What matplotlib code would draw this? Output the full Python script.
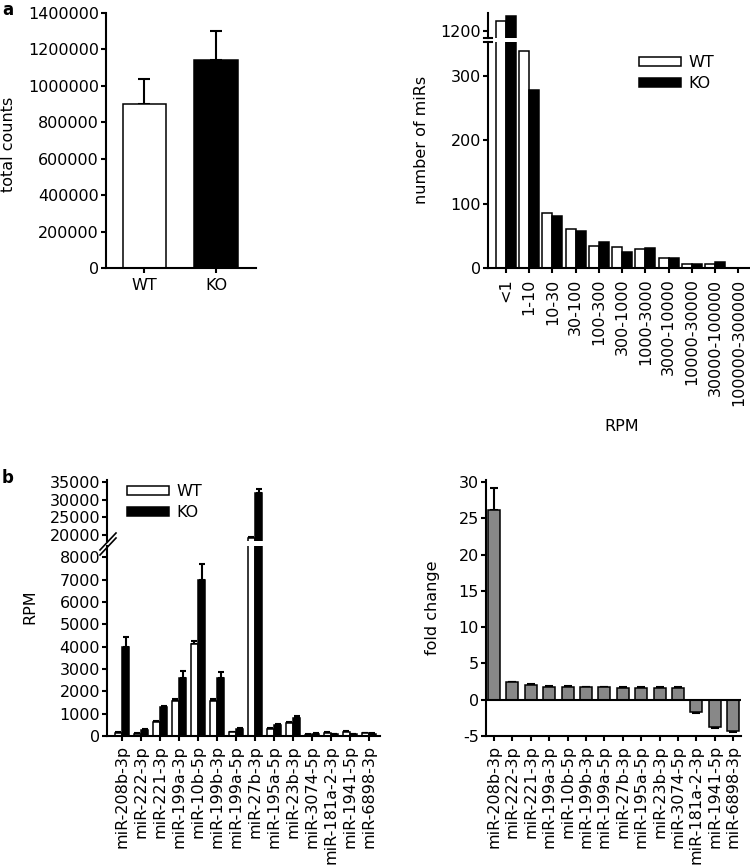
import matplotlib
matplotlib.use("Agg")
import matplotlib.pyplot as plt
from matplotlib.patches import Patch
from matplotlib.lines import Line2D
from matplotlib.ticker import FuncFormatter
import numpy as np

plt.rcParams['font.family'] = ['DejaVu Sans']
plt.rcParams['font.size'] = 11
plt.rcParams['axes.unicode_minus'] = False

# ---------------- data ----------------
groups = ['WT', 'KO']
total_counts = [900000, 1140000]
total_err = [140000, 160000]

rpm_bins = ['<1', '1-10', '10-30', '30-100', '100-300', '300-1000', '1000-3000',
            '3000-10000', '10000-30000', '30000-100000', '100000-300000']
wt_nmirs = [1228, 339, 86, 61, 35, 33, 29, 16, 6, 6, 0]
ko_nmirs = [1242, 278, 81, 58, 40, 25, 31, 16, 7, 10, 0]

mirs = ['miR-208b-3p', 'miR-222-3p', 'miR-221-3p', 'miR-199a-3p', 'miR-10b-5p',
        'miR-199b-3p', 'miR-199a-5p', 'miR-27b-3p', 'miR-195a-5p', 'miR-23b-3p',
        'miR-3074-5p', 'miR-181a-2-3p', 'miR-1941-5p', 'miR-6898-3p']
wt_rpm = [150, 100, 620, 1550, 4100, 1580, 170, 19150, 330, 560, 60, 150, 200, 130]
wt_rpm_err = [30, 20, 60, 100, 130, 80, 30, 250, 40, 60, 10, 20, 30, 20]
ko_rpm = [4000, 260, 1280, 2600, 7000, 2600, 300, 32000, 500, 820, 110, 90, 90, 100]
ko_rpm_err = [450, 40, 60, 300, 700, 250, 50, 1000, 50, 70, 20, 15, 15, 15]

fold_change = [26.2, 2.4, 2.1, 1.8, 1.8, 1.7, 1.7, 1.65, 1.6, 1.6, 1.6, -1.7, -3.7, -4.3]
fold_err = [3.0, 0.1, 0.1, 0.1, 0.1, 0.1, 0.1, 0.1, 0.1, 0.1, 0.1, 0.15, 0.25, 0.2]

# ---------------- layout helpers ----------------
W, H = 750, 868
fig = plt.figure(figsize=(W / 100, H / 100), dpi=100)

def px_axes(l, t, r, b):
    return fig.add_axes([l / W, 1 - b / H, (r - l) / W, (b - t) / H])

def fx(x):
    return x / W

def fy(y):
    return 1 - y / H

LW = 1.5
EDGE = 1.1
FS = 11.5
plain = FuncFormatter(lambda v, p: '%d' % round(v))

def style(ax, left=True, bottom=True):
    for s in ['top', 'right']:
        ax.spines[s].set_visible(False)
    ax.spines['left'].set_visible(left)
    ax.spines['bottom'].set_visible(bottom)
    for s in ['left', 'bottom']:
        ax.spines[s].set_linewidth(LW)
    ax.tick_params(axis='both', direction='out', length=3.5, width=LW, pad=1.5,
                   labelsize=FS)
    ax.yaxis.set_major_formatter(plain)
    ax.patch.set_alpha(0)

# ---------------- panel a left ----------------
ax = px_axes(106, 13, 256, 268)
style(ax)
xa = np.arange(len(groups))
ax.bar(xa, total_counts, width=0.61, color=['white', 'black'], edgecolor='black',
       linewidth=EDGE, zorder=2)
ax.errorbar(xa, total_counts, yerr=[[0, 0], total_err], fmt='none', ecolor='black',
            elinewidth=LW, capsize=4, capthick=LW, zorder=1)
ax.set_xlim(-0.535, 1.55)
ax.set_ylim(0, 1400000)
ax.set_yticks(np.arange(0, 1400001, 200000))
ax.set_xticks(xa)
ax.set_xticklabels(groups)
ax.tick_params(axis='x', pad=4)
fig.text(fx(9), fy(144), 'total counts', rotation=90, ha='center', va='center', fontsize=FS)

# ---------------- panel a right ----------------
xb = np.arange(len(rpm_bins))
bw = 0.43
ax_lo = px_axes(488, 42, 750, 268)
ax_hi = px_axes(488, 13, 750, 38)
for a in (ax_lo, ax_hi):
    a.bar(xb - bw / 2, wt_nmirs, width=bw, color='white', edgecolor='black', linewidth=EDGE)
    a.bar(xb + bw / 2, ko_nmirs, width=bw, color='black', edgecolor='black', linewidth=EDGE)
    a.set_xlim(-0.77, 10.5)
style(ax_lo)
style(ax_hi, bottom=False)
ax_lo.set_ylim(0, 353)
ax_lo.set_yticks([0, 100, 200, 300])
ax_lo.set_xticks(xb)
ax_lo.set_xticklabels(rpm_bins, rotation=90)
ax_lo.tick_params(axis='x', pad=4)
ax_hi.set_ylim(1180, 1250)
ax_hi.set_yticks([1200])
ax_hi.set_xticks([])
# break marks
for yy in (38, 42):
    fig.add_artist(Line2D([fx(484), fx(492)], [fy(yy), fy(yy)], color='black', lw=LW))
fig.text(fx(422), fy(140), 'number of miRs', rotation=90, ha='center', va='center', fontsize=FS)
fig.text(fx(622), fy(426), 'RPM', ha='center', va='center', fontsize=FS)
leg_handles = [Patch(facecolor='white', edgecolor='black', linewidth=EDGE),
               Patch(facecolor='black', edgecolor='black', linewidth=EDGE)]
ax_lo.legend(leg_handles, groups, loc='upper left', bbox_to_anchor=(fx(639), fy(55)),
             bbox_transform=fig.transFigure, frameon=False, handlelength=2.6,
             handleheight=0.5, handletextpad=0.5, labelspacing=0.4,
             borderaxespad=0, borderpad=0, fontsize=FS)

# ---------------- panel b left ----------------
xm = np.arange(len(mirs))
bw2 = 0.37
bl_lo = px_axes(107, 546, 380, 736)
bl_hi = px_axes(107, 480, 380, 541)
for a in (bl_lo, bl_hi):
    a.bar(xm - bw2 / 2, wt_rpm, width=bw2, color='white', edgecolor='black', linewidth=EDGE, zorder=2)
    a.bar(xm + bw2 / 2, ko_rpm, width=bw2, color='black', edgecolor='black', linewidth=EDGE, zorder=2)
    a.errorbar(xm - bw2 / 2, wt_rpm, yerr=[np.zeros(len(mirs)), wt_rpm_err], fmt='none',
               ecolor='black', elinewidth=LW, capsize=2.5, capthick=LW, zorder=1)
    a.errorbar(xm + bw2 / 2, ko_rpm, yerr=[np.zeros(len(mirs)), ko_rpm_err], fmt='none',
               ecolor='black', elinewidth=LW, capsize=2.5, capthick=LW, zorder=1)
    a.set_xlim(-0.79, 13.58)
style(bl_lo)
style(bl_hi, bottom=False)
bl_lo.set_ylim(0, 8500)
bl_lo.set_yticks(np.arange(0, 8001, 1000))
bl_lo.set_xticks(xm)
bl_lo.set_xticklabels(mirs, rotation=90)
bl_lo.tick_params(axis='x', pad=3)
bl_hi.set_ylim(18300, 35570)
bl_hi.set_yticks([20000, 25000, 30000, 35000])
bl_hi.set_xticks([])
for dy in (0, 5):
    fig.add_artist(Line2D([fx(100), fx(116)], [fy(550 + dy), fy(533 + dy)], color='black', lw=1.2))
fig.text(fx(30), fy(607), 'RPM', rotation=90, ha='center', va='center', fontsize=FS)
bl_hi.legend(leg_handles, groups, loc='upper left', bbox_to_anchor=(fx(127), fy(484)),
             bbox_transform=fig.transFigure, frameon=False, handlelength=2.6,
             handleheight=0.5, handletextpad=0.5, labelspacing=0.4,
             borderaxespad=0, borderpad=0, fontsize=FS)

# ---------------- panel b right ----------------
br = px_axes(486, 480, 741, 736)
style(br)
fc = np.array(fold_change)
fe = np.array(fold_err)
br.bar(xm, fc, width=0.65, color='#888888', edgecolor='black', linewidth=EDGE, zorder=2)
br.errorbar(xm, fc, yerr=[np.where(fc < 0, fe, 0), np.where(fc > 0, fe, 0)], fmt='none',
            ecolor='black', elinewidth=LW, capsize=3, capthick=LW, zorder=1)
br.axhline(0, color='black', lw=LW, zorder=3)
br.set_xlim(-0.43, 13.42)
br.set_ylim(-5, 30.3)
br.set_yticks(np.arange(-5, 31, 5))
br.set_xticks(xm)
br.set_xticklabels(mirs, rotation=90)
br.tick_params(axis='x', pad=3)
fig.text(fx(433), fy(608), 'fold change', rotation=90, ha='center', va='center', fontsize=FS)

# panel letters
fig.text(fx(2), fy(1), 'a', ha='left', va='top', fontsize=12, fontweight='bold')
fig.text(fx(2), fy(469), 'b', ha='left', va='top', fontsize=12, fontweight='bold')

fig.savefig('out.png', dpi=100)
